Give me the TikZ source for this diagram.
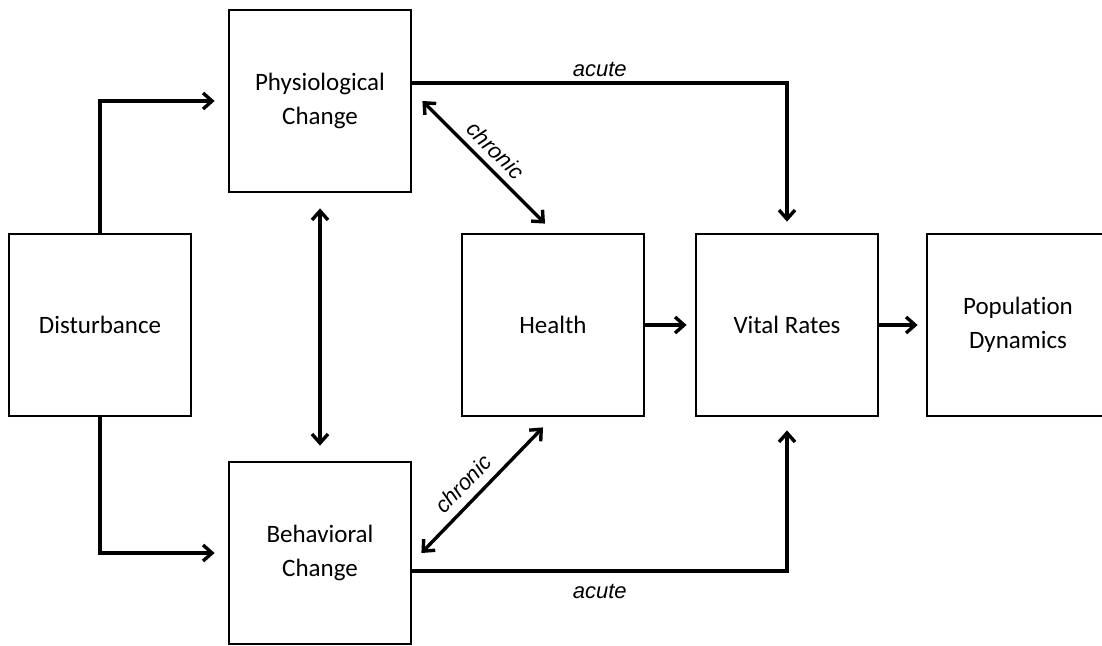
\documentclass[tikz,border=0pt]{standalone}
\usepackage{fontspec}
\setmainfont{Carlito}[Ligatures=NoCommon]
\newfontfamily\labelfont{Liberation Sans}
\usetikzlibrary{arrows.meta}

\begin{document}
\begin{tikzpicture}[x=1pt,y=-1pt,
	box/.style={draw,line width=2.8pt,minimum width=182pt,minimum height=182pt,align=center,font=\fontsize{25}{34}\selectfont},
	arr/.style={line width=3.4pt,-{Straight Barb[length=9pt,width=16pt]}},
	darr/.style={line width=3.4pt,{Straight Barb[length=9pt,width=16pt]}-{Straight Barb[length=9pt,width=16pt]}},
	lab/.style={font=\labelfont\itshape\fontsize{22}{26}\selectfont}]
	\useasboundingbox (0,0) rectangle (1102,645);
	\clip (0,0) rectangle (1102,645);
	% boxes
	\node[box] (dist) at (100,325) {Disturbance};
	\node[box] (phys) at (320,101) {Physiological\\Change};
	\node[box] (behav) at (320,553) {Behavioral\\Change};
	\node[box] (health) at (553,325) {Health};
	\node[box] (vital) at (787,325) {Vital Rates};
	\node[box] (pop) at (1018,325) {Population\\Dynamics};
	% disturbance to both changes
	\foreach \s/\t in {north/phys,south/behav}
		\draw[arr,shorten >=13pt] (dist.\s) |- (\t.west);
	\draw[darr,shorten >=15pt,shorten <=15pt] (phys.south) -- (behav.north);
	% acute paths
	\draw[arr,shorten >=11pt] ([yshift=18pt]phys.east) -| (vital.north) node[lab,pos=0.25,above=1pt] (acutetop) {acute};
	\draw[arr,shorten >=13pt] ([yshift=-18pt]behav.east) -| (vital.south) node[lab,pos=0.25,below=8pt] (acutebot) {acute};
	% chronic paths
	\draw[darr] ([xshift=10pt]phys.east) -- ([xshift=-8pt,yshift=9pt]health.north)
		node[lab,midway,sloped,above=4pt] (chrtop) {chronic};
	\draw[darr] ([xshift=-10pt,yshift=-10pt]health.south) -- ([xshift=9pt]behav.east)
		node[lab,pos=0.55,sloped,above=5pt] (chrbot) {chronic};
	% on to the population
	\draw[arr,shorten >=8pt] (health.east) -- (vital.west);
	\draw[arr,shorten >=8pt] (vital.east) -- (pop.west);
\end{tikzpicture}
\end{document}
